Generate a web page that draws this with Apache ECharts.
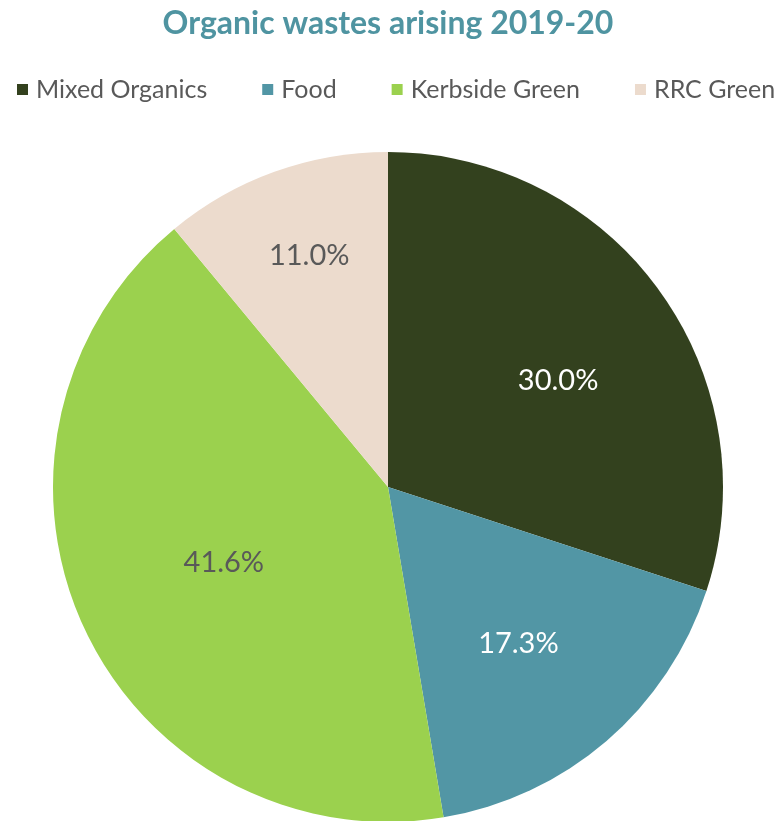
<!DOCTYPE html>
<html>
<head>
<meta charset="utf-8">
<script src="https://cdn.jsdelivr.net/npm/echarts@6/dist/echarts.min.js"></script>
<style>html,body{margin:0;padding:0;background:#fff}#c{width:776px;height:821px}</style>
</head>
<body>
<div id="c"></div>
<script>
const categories = ['Mixed Organics', 'Food', 'Kerbside Green', 'RRC Green'];
const values = [30.0, 17.3, 41.6, 11.0];
const colors = ['#33411e', '#5296a5', '#9bd14e', '#ecdbcd'];
const labelColors = ['#ffffff', '#ffffff', '#595959', '#595959'];
const labelRadiusFrac = [0.59, 0.60, 0.53, 0.72];
const labelAngleShiftDeg = [4, 1, 0, 1];

const R = 335;
const total = values.reduce((a, b) => a + b, 0);
const midAngles = [];
let acc = 0;
values.forEach(v => { midAngles.push((acc + v / 2) / total * 2 * Math.PI); acc += v; });

const chart = echarts.init(document.getElementById('c'), null, {renderer: 'canvas'});
chart.setOption({
  animation: false,
  title: {
    text: 'Organic wastes arising 2019-20',
    left: 'center', top: 3,
    textStyle: {fontFamily: 'Lato', fontWeight: 'bold', fontSize: 32, color: '#4f94a1'}
  },
  legend: {
    top: 72, left: 17,
    padding: [5, 0, 5, 0],
    itemWidth: 11, itemHeight: 11, itemGap: 55,
    icon: 'rect',
    textStyle: {fontFamily: 'Lato', fontSize: 25, color: '#595959', padding: [0, 0, 0, 3]},
    data: categories
  },
  series: [{
    type: 'pie',
    center: [388, 487],
    radius: [0, R],
    startAngle: 90,
    clockwise: true,
    silent: true,
    label: {
      show: true, position: 'inside',
      formatter: p => p.value.toFixed(1) + '%',
      fontFamily: 'Lato', fontSize: 29
    },
    labelLine: {show: false},
    itemStyle: {borderWidth: 0},
    labelLayout: function (p) {
      const i = p.dataIndex;
      const a0 = midAngles[i];
      const a1 = a0 + labelAngleShiftDeg[i] * Math.PI / 180;
      const f = labelRadiusFrac[i] * R, h = 0.5 * R;
      return {
        dx: f * Math.sin(a1) - h * Math.sin(a0),
        dy: -f * Math.cos(a1) + h * Math.cos(a0)
      };
    },
    data: categories.map((n, i) => ({
      name: n, value: values[i],
      itemStyle: {color: colors[i]},
      label: {color: labelColors[i]}
    }))
  }]
});
</script>
</body>
</html>
